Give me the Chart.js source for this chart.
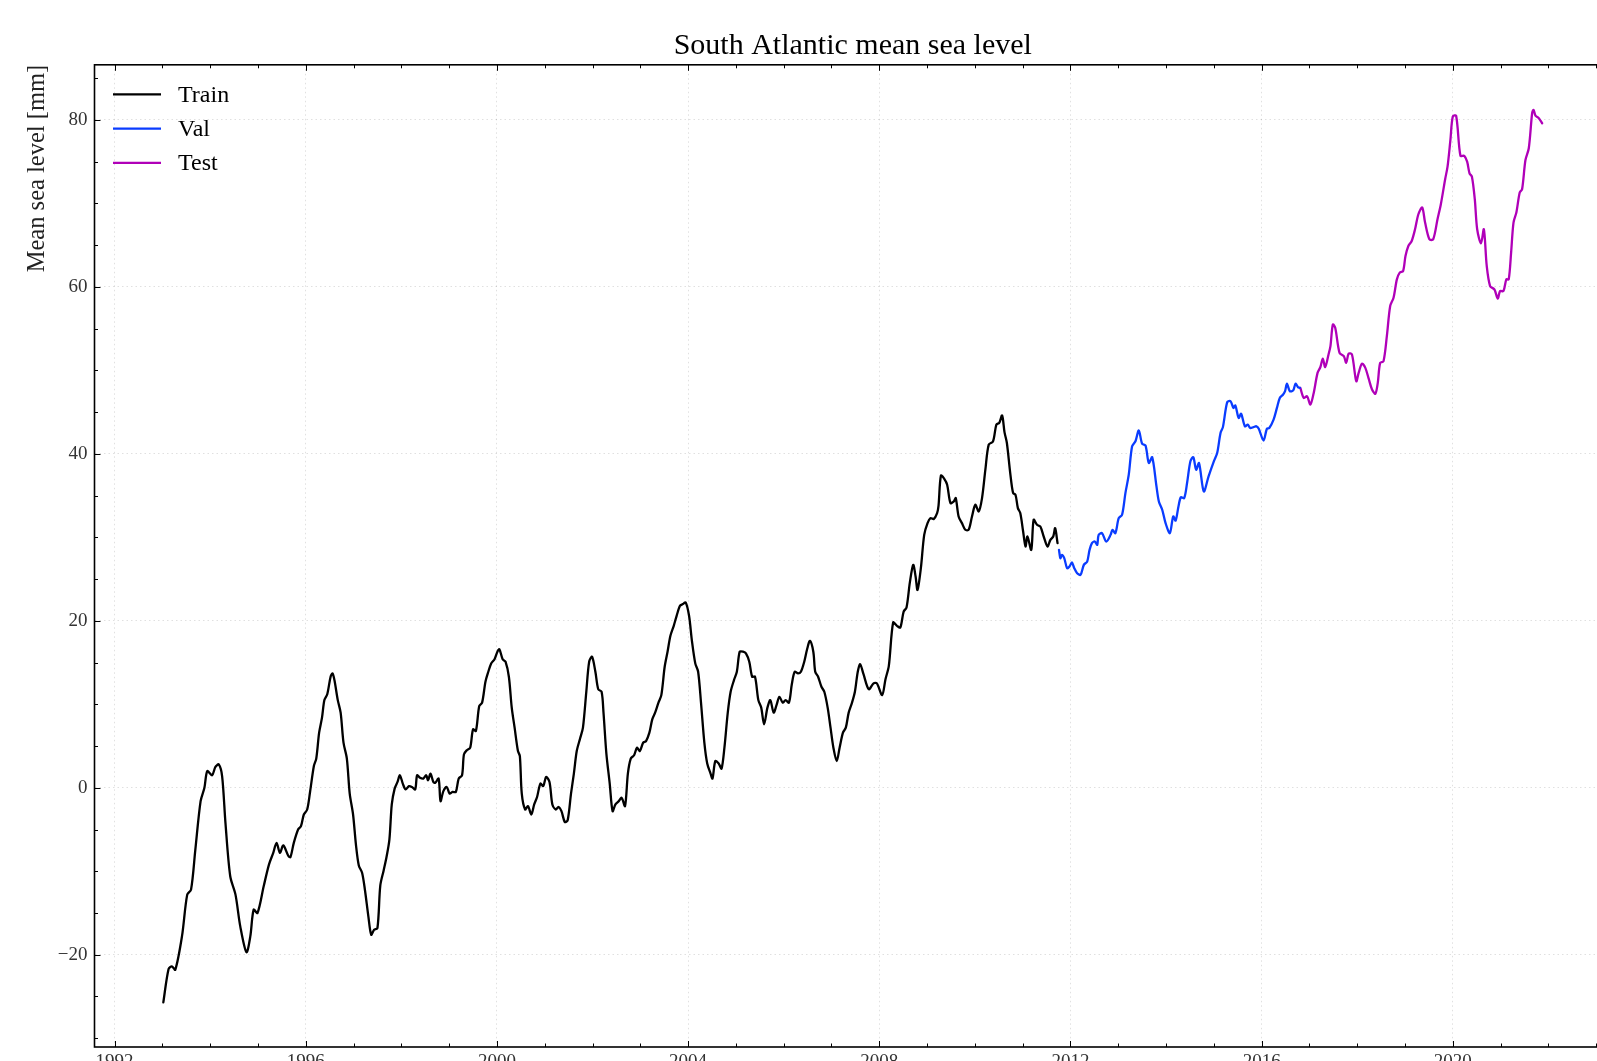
<!DOCTYPE html>
<html lang="en">
<head>
<meta charset="UTF-8">
<title>South Atlantic mean sea level</title>
<style>
    html, body { margin: 0; padding: 0; overflow: hidden; background: #fff; }
    #chart { display: block; }
</style>
</head>
<body>
<canvas id="chart" width="1620" height="1100"></canvas>

<script src="https://cdn.jsdelivr.net/npm/chart.js@4"></script>
<script>
// values: decimal year and mean sea level in mm
const trainYears = [
    1993.02, 1993.13, 1993.20, 1993.27, 1993.41, 1993.52, 1993.60, 1993.69, 1993.80, 1993.88,
    1993.94, 1994.04, 1994.11, 1994.18, 1994.25, 1994.32, 1994.42, 1994.53, 1994.63, 1994.76,
    1994.84, 1994.91, 1994.99, 1995.12, 1995.23, 1995.32, 1995.39, 1995.46, 1995.53, 1995.64,
    1995.68, 1995.75, 1995.84, 1995.90, 1995.96, 1996.03, 1996.09, 1996.17, 1996.22, 1996.28,
    1996.34, 1996.39, 1996.45, 1996.52, 1996.56, 1996.60, 1996.67, 1996.73, 1996.79, 1996.86,
    1996.92, 1996.99, 1997.05, 1997.11, 1997.18, 1997.24, 1997.31, 1997.37, 1997.43, 1997.50,
    1997.56, 1997.63, 1997.69, 1997.75, 1997.80, 1997.86, 1997.92, 1997.97, 1998.03, 1998.09,
    1998.16, 1998.22, 1998.29, 1998.33, 1998.39, 1998.46, 1998.52, 1998.56, 1998.61, 1998.67,
    1998.71, 1998.78, 1998.82, 1998.88, 1998.95, 1999.01, 1999.07, 1999.14, 1999.20, 1999.27,
    1999.31, 1999.37, 1999.44, 1999.50, 1999.56, 1999.63, 1999.69, 1999.76, 1999.82, 1999.88,
    1999.95, 2000.01, 2000.05, 2000.12, 2000.18, 2000.25, 2000.31, 2000.37, 2000.44, 2000.48,
    2000.52, 2000.59, 2000.65, 2000.72, 2000.78, 2000.84, 2000.91, 2000.97, 2001.03, 2001.10,
    2001.16, 2001.23, 2001.29, 2001.35, 2001.42, 2001.48, 2001.55, 2001.61, 2001.67, 2001.74,
    2001.80, 2001.87, 2001.93, 2001.99, 2002.06, 2002.12, 2002.19, 2002.23, 2002.29, 2002.36,
    2002.42, 2002.48, 2002.55, 2002.61, 2002.68, 2002.74, 2002.80, 2002.87, 2002.93, 2002.99,
    2003.06, 2003.12, 2003.19, 2003.25, 2003.31, 2003.38, 2003.44, 2003.51, 2003.57, 2003.63,
    2003.70, 2003.76, 2003.83, 2003.89, 2003.95, 2004.02, 2004.08, 2004.15, 2004.21, 2004.27,
    2004.34, 2004.40, 2004.47, 2004.51, 2004.57, 2004.64, 2004.70, 2004.76, 2004.83, 2004.89,
    2004.96, 2005.02, 2005.08, 2005.15, 2005.21, 2005.28, 2005.34, 2005.40, 2005.47, 2005.53,
    2005.59, 2005.66, 2005.72, 2005.79, 2005.85, 2005.91, 2005.98, 2006.04, 2006.11, 2006.17,
    2006.23, 2006.30, 2006.36, 2006.43, 2006.49, 2006.55, 2006.62, 2006.66, 2006.72, 2006.79,
    2006.85, 2006.92, 2006.98, 2007.04, 2007.11, 2007.17, 2007.24, 2007.30, 2007.36, 2007.43,
    2007.49, 2007.55, 2007.60, 2007.67, 2007.78, 2007.88, 2007.95, 2008.06, 2008.13, 2008.20,
    2008.29, 2008.37, 2008.44, 2008.51, 2008.57, 2008.64, 2008.71, 2008.76, 2008.80, 2008.87,
    2008.94, 2009.01, 2009.07, 2009.14, 2009.21, 2009.24, 2009.29, 2009.36, 2009.42, 2009.49,
    2009.56, 2009.60, 2009.66, 2009.73, 2009.80, 2009.87, 2009.94, 2010.01, 2010.08, 2010.15,
    2010.22, 2010.29, 2010.38, 2010.45, 2010.51, 2010.57, 2010.62, 2010.67, 2010.74, 2010.80,
    2010.85, 2010.90, 2010.95, 2011.01, 2011.06, 2011.10, 2011.18, 2011.23, 2011.30, 2011.37,
    2011.44, 2011.52, 2011.58, 2011.64, 2011.68, 2011.73
];
const trainLevel = [
    -25.7, -21.7, -21.4, -21.8, -17.8, -12.8, -12.2, -7.4, -1.6, 0.0,
    2.0, 1.5, 2.5, 2.8, 1.4, -4.2, -10.6, -12.8, -16.6, -19.7,
    -17.8, -14.6, -15.0, -11.8, -9.2, -7.8, -6.6, -7.8, -6.9, -8.2,
    -8.3, -6.6, -5.0, -4.6, -3.2, -2.6, -0.5, 2.6, 3.5, 6.6,
    8.4, 10.5, 11.2, 13.3, 13.7, 12.9, 10.5, 9.0, 5.4, 3.5,
    -0.7, -3.2, -6.8, -9.3, -10.2, -12.3, -15.4, -17.6, -17.0, -16.8,
    -11.7, -9.9, -8.3, -6.2, -2.0, -0.1, 0.7, 1.5, 0.5, -0.2,
    0.2, 0.1, -0.2, 1.5, 1.2, 1.1, 1.5, 0.9, 1.7, 0.7,
    0.6, 1.1, -1.6, -0.4, 0.1, -0.7, -0.5, -0.5, 1.1, 1.5,
    4.0, 4.5, 4.8, 7.0, 6.8, 9.8, 10.2, 12.7, 13.9, 14.9,
    15.4, 16.3, 16.6, 15.4, 15.1, 13.3, 9.6, 7.2, 4.4, 3.8,
    -0.7, -2.6, -2.2, -3.2, -2.0, -1.1, 0.5, 0.2, 1.3, 0.7,
    -2.0, -2.6, -2.3, -2.8, -4.1, -3.9, -0.7, 1.7, 4.4, 5.9,
    7.2, 11.5, 15.1, 15.7, 13.9, 11.8, 11.5, 9.0, 4.1, 0.5,
    -2.8, -2.0, -1.6, -1.2, -2.2, 1.7, 3.5, 3.9, 4.8, 4.4,
    5.4, 5.6, 6.6, 8.2, 9.0, 10.2, 11.1, 14.5, 16.3, 18.2,
    19.4, 20.6, 21.8, 22.0, 22.2, 20.6, 17.6, 14.9, 13.9, 10.2,
    5.4, 2.9, 1.7, 1.1, 3.2, 2.9, 2.3, 4.8, 9.0, 11.5,
    12.9, 13.9, 16.3, 16.3, 16.1, 15.1, 13.3, 13.3, 10.5, 9.6,
    7.6, 9.6, 10.5, 9.0, 9.9, 10.9, 10.2, 10.5, 10.2, 12.4,
    13.9, 13.7, 13.9, 15.1, 16.6, 17.6, 16.3, 13.9, 13.3, 12.1,
    11.5, 9.6, 7.2, 4.8, 3.2, 4.8, 6.6, 7.2, 9.0, 10.2,
    11.5, 13.9, 14.8, 13.6, 11.8, 12.5, 12.5, 11.1, 13.0, 14.6,
    19.8, 19.4, 19.2, 21.1, 21.6, 24.6, 26.7, 25.3, 23.7, 26.3,
    30.3, 31.7, 32.3, 32.2, 32.9, 33.8, 37.4, 37.0, 36.3, 34.1,
    34.3, 34.7, 32.5, 31.7, 30.9, 30.9, 32.5, 33.9, 33.1, 34.7,
    38.1, 41.1, 41.5, 43.5, 43.7, 44.6, 42.6, 41.3, 37.7, 35.3,
    35.1, 33.5, 32.9, 30.7, 28.9, 30.1, 28.5, 32.1, 31.5, 31.3,
    30.1, 28.9, 29.7, 30.1, 31.1, 29.3
];

const valYears = [
    2011.76, 2011.79, 2011.82, 2011.87, 2011.93, 2011.98, 2012.03, 2012.08, 2012.14, 2012.21,
    2012.28, 2012.35, 2012.40, 2012.45, 2012.51, 2012.56, 2012.59, 2012.66, 2012.75, 2012.84,
    2012.88, 2012.94, 2013.01, 2013.08, 2013.15, 2013.22, 2013.29, 2013.36, 2013.43, 2013.50,
    2013.57, 2013.64, 2013.71, 2013.80, 2013.85, 2013.92, 2013.99, 2014.08, 2014.15, 2014.20,
    2014.26, 2014.31, 2014.38, 2014.44, 2014.51, 2014.57, 2014.63, 2014.69, 2014.79, 2014.89,
    2015.00, 2015.07, 2015.14, 2015.19, 2015.28, 2015.35, 2015.41, 2015.45, 2015.52, 2015.57,
    2015.65, 2015.71, 2015.76, 2015.83, 2015.89, 2015.94, 2016.04, 2016.11, 2016.16, 2016.25,
    2016.32, 2016.38, 2016.45, 2016.49, 2016.53, 2016.59, 2016.66, 2016.71, 2016.76, 2016.80
];
const valLevel = [
    28.5, 27.5, 27.9, 27.5, 26.3, 26.5, 27.0, 26.3, 25.7, 25.5,
    26.7, 27.1, 28.5, 29.3, 29.5, 29.1, 30.3, 30.5, 29.5, 30.3,
    30.9, 30.5, 32.3, 32.7, 35.3, 37.5, 40.9, 41.5, 42.8, 41.2,
    41.0, 38.9, 39.6, 36.1, 34.3, 33.3, 31.7, 30.5, 32.5, 32.0,
    33.7, 34.8, 34.7, 36.5, 39.1, 39.6, 38.1, 38.9, 35.5, 37.3,
    39.1, 40.1, 42.5, 43.2, 46.2, 46.3, 45.5, 45.8, 44.3, 44.8,
    43.3, 43.5, 43.1, 43.2, 43.3, 43.0, 41.6, 43.0, 43.1, 44.1,
    45.5, 46.7, 47.1, 47.5, 48.4, 47.5, 47.6, 48.4, 48.0, 47.9
];

const testYears = [
    2016.81, 2016.88, 2016.95, 2017.02, 2017.09, 2017.17, 2017.23, 2017.28, 2017.33, 2017.40,
    2017.44, 2017.49, 2017.54, 2017.63, 2017.72, 2017.77, 2017.82, 2017.89, 2017.98, 2018.03,
    2018.10, 2018.17, 2018.24, 2018.31, 2018.38, 2018.43, 2018.48, 2018.55, 2018.62, 2018.69,
    2018.76, 2018.83, 2018.89, 2018.96, 2019.01, 2019.07, 2019.14, 2019.21, 2019.28, 2019.36,
    2019.42, 2019.51, 2019.59, 2019.68, 2019.75, 2019.84, 2019.89, 2019.95, 2020.00, 2020.07,
    2020.16, 2020.24, 2020.30, 2020.35, 2020.40, 2020.46, 2020.51, 2020.59, 2020.65, 2020.71,
    2020.78, 2020.87, 2020.94, 2020.99, 2021.06, 2021.12, 2021.17, 2021.22, 2021.27, 2021.33,
    2021.40, 2021.45, 2021.52, 2021.59, 2021.66, 2021.69, 2021.73, 2021.80, 2021.87
];
const testLevel = [
    47.9, 46.7, 46.9, 45.9, 47.3, 49.7, 50.4, 51.4, 50.4, 51.9,
    52.9, 55.5, 55.1, 52.1, 51.7, 50.9, 52.0, 51.9, 48.7, 49.7,
    50.8, 50.3, 49.0, 47.7, 47.2, 48.5, 50.9, 51.1, 54.1, 57.7,
    58.7, 60.9, 61.7, 61.9, 63.7, 64.9, 65.5, 66.9, 68.7, 69.5,
    67.7, 65.7, 65.7, 68.1, 69.9, 72.9, 74.4, 77.6, 80.4, 80.5,
    75.7, 75.7, 75.0, 73.6, 73.2, 70.5, 66.9, 65.2, 66.9, 62.5,
    60.1, 59.7, 58.6, 59.5, 59.5, 60.9, 60.9, 64.1, 67.7, 68.9,
    71.3, 71.7, 75.2, 76.6, 80.8, 81.2, 80.5, 80.2, 79.6
];

const xTicks = [1992, 1996, 2000, 2004, 2008, 2012, 2016, 2020];
const yTicks = [-20, 0, 20, 40, 60, 80];

const serif = "'Liberation Serif', 'DejaVu Serif', serif";

function toPoints(xs, ys) {
    return xs.map((x, i) => ({ x: x, y: ys[i] }));
}

// frame, inward ticks on all four sides and the legend, drawn from the chart's own scales
const framePlugin = {
    id: 'frame',
    afterDatasetsDraw(chart) {
        const ctx = chart.ctx;
        const area = chart.chartArea;
        const xs = chart.scales.x;
        const ys = chart.scales.y;
        ctx.save();
        ctx.strokeStyle = '#000';

        ctx.lineWidth = 1;
        ctx.beginPath();
        for (let v = Math.ceil(xs.min); v <= xs.max; v++) {
            const len = v % 4 === 0 ? 6 : 3.5;
            const px = Math.round(xs.getPixelForValue(v)) + 0.5;
            ctx.moveTo(px, area.bottom); ctx.lineTo(px, area.bottom - len);
            ctx.moveTo(px, area.top); ctx.lineTo(px, area.top + len);
        }
        for (let v = Math.ceil(ys.min / 5) * 5; v <= ys.max; v += 5) {
            const len = v % 20 === 0 ? 6 : 3.5;
            const py = Math.round(ys.getPixelForValue(v)) + 0.5;
            ctx.moveTo(area.left, py); ctx.lineTo(area.left + len, py);
            ctx.moveTo(area.right, py); ctx.lineTo(area.right - len, py);
        }
        ctx.stroke();

        ctx.lineWidth = 1.6;
        ctx.strokeRect(area.left, area.top, area.right - area.left, area.bottom - area.top);

        // legend
        ctx.font = '24px ' + serif;
        ctx.textBaseline = 'middle';
        ctx.textAlign = 'left';
        chart.data.datasets.forEach((ds, i) => {
            const y = area.top + 29.5 + i * 34.3;
            ctx.strokeStyle = ds.borderColor;
            ctx.lineWidth = 2.2;
            ctx.beginPath();
            ctx.moveTo(area.left + 18.5, y);
            ctx.lineTo(area.left + 66.5, y);
            ctx.stroke();
            ctx.fillStyle = '#000';
            ctx.fillText(ds.label, area.left + 83.5, y + 1);
        });
        ctx.restore();
    }
};

new Chart(document.getElementById('chart'), {
    type: 'line',
    data: {
        datasets: [
            { label: 'Train', data: toPoints(trainYears, trainLevel), borderColor: '#000000' },
            { label: 'Val', data: toPoints(valYears, valLevel), borderColor: '#0a3cff' },
            { label: 'Test', data: toPoints(testYears, testLevel), borderColor: '#b000b8' }
        ]
    },
    options: {
        responsive: false,
        animation: false,
        devicePixelRatio: 1,
        elements: {
            line: { borderWidth: 2.3, tension: 0.3, borderJoinStyle: 'round', borderCapStyle: 'round' },
            point: { radius: 0 }
        },
        layout: { padding: { left: 0, right: 9, top: 0, bottom: 0 } },
        plugins: {
            legend: { display: false },
            tooltip: { enabled: false },
            title: {
                display: true,
                fullSize: false,
                text: 'South Atlantic mean sea level',
                color: '#000',
                font: { family: serif, size: 30, weight: 'normal' },
                padding: { top: 28.5, bottom: 0.3 }
            }
        },
        scales: {
            x: {
                type: 'linear',
                min: 1991.58,
                max: 2023.31,
                afterBuildTicks: s => { s.ticks = xTicks.map(v => ({ value: v })); },
                afterFit: s => { s.height = 53; },
                ticks: {
                    color: '#333',
                    padding: 4,
                    maxRotation: 0,
                    autoSkip: false,
                    font: { family: serif, size: 19 },
                    callback: v => String(v)
                },
                grid: { color: 'rgba(0,0,0,0.12)', lineWidth: 1, drawTicks: false },
                border: { display: false, dash: [1.5, 3] }
            },
            y: {
                type: 'linear',
                min: -31.05,
                max: 86.6,
                afterBuildTicks: s => { s.ticks = yTicks.map(v => ({ value: v })); },
                afterFit: s => { s.width = 94.5; },
                ticks: {
                    color: '#333',
                    padding: 7,
                    autoSkip: false,
                    font: { family: serif, size: 19 },
                    callback: v => (v < 0 ? '\u2212' + Math.abs(v) : String(v))
                },
                grid: { color: 'rgba(0,0,0,0.12)', lineWidth: 1, drawTicks: false },
                border: { display: false, dash: [1.5, 3] },
                title: {
                    display: true,
                    text: 'Mean sea level [mm]',
                    align: 'end',
                    color: '#222',
                    font: { family: serif, size: 24.5 },
                    padding: { top: 23, bottom: 0 }
                }
            }
        }
    },
    plugins: [framePlugin]
});
</script>
</body>
</html>
